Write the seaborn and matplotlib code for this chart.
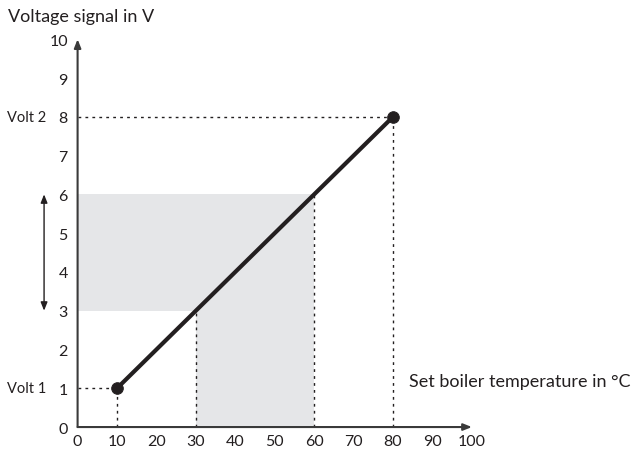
import matplotlib
matplotlib.use("Agg")
import matplotlib.pyplot as plt
import seaborn as sns
import pandas as pd

# characteristic curve: set boiler temperature -> voltage signal
temps = [10, 80]
volts = [1, 8]

# shaded ranges
temp_range = [30, 60]
volt_range = [3, 6]

x_ticks = [0, 10, 20, 30, 40, 50, 60, 70, 80, 90, 100]
y_ticks = [0, 1, 2, 3, 4, 5, 6, 7, 8, 9, 10]

df = pd.DataFrame({"temp": temps, "volt": volts})

sns.set_style("white")
plt.rcParams["font.family"] = ["Lato", "DejaVu Sans"]

fig = plt.figure(figsize=(6.36, 4.52), dpi=100)
ax = fig.add_axes([0.122, 0.053, 0.62, 0.858])

dark = "#231f20"
gray = "#e5e6e8"

# gray shaded areas
ax.fill_between([0, temp_range[1]], volt_range[0], volt_range[1], color=gray, lw=0, zorder=0)
ax.fill_between(temp_range, 0, volt_range[0], color=gray, lw=0, zorder=0)

# dotted helper lines
dot = dict(color=dark, lw=1, ls=(0, (2, 3)), zorder=1)
ax.plot([0, temps[0]], [volts[0], volts[0]], **dot)
ax.plot([temps[0], temps[0]], [0, volts[0]], **dot)
ax.plot([0, temps[1]], [volts[1], volts[1]], **dot)
ax.plot([temps[1], temps[1]], [0, volts[1]], **dot)
ax.plot([temp_range[0], temp_range[0]], [0, volt_range[0]], **dot)
ax.plot([temp_range[1], temp_range[1]], [0, volt_range[1]], **dot)

# the characteristic line and end points
sns.lineplot(data=df, x="temp", y="volt", color=dark, lw=3, ax=ax, zorder=3)
sns.scatterplot(data=df, x="temp", y="volt", color=dark, s=70, edgecolor=dark, ax=ax, zorder=4)

ax.set_xlim(0, 100)
ax.set_ylim(0, 10)
ax.set_xticks(x_ticks)
ax.set_yticks(y_ticks)
ax.set_xticklabels([str(t) for t in x_ticks], fontsize=11.5, color=dark)
ax.set_yticklabels([str(t) for t in y_ticks], fontsize=11.5, color=dark)
ax.tick_params(axis="x", length=0, pad=5)
ax.tick_params(axis="y", length=0, pad=7)
ax.set_xlabel("")
ax.set_ylabel("")
for s in ax.spines.values():
    s.set_visible(False)

# axes with arrow heads
arr = dict(arrowstyle="-|>,head_length=0.5,head_width=0.2", color="#3a3a3a", lw=1.5, shrinkA=0, shrinkB=0)
ax.annotate("", xy=(100, 0), xytext=(0, 0), arrowprops=arr, annotation_clip=False)
ax.annotate("", xy=(0, 10), xytext=(0, 0), arrowprops=arr, annotation_clip=False)

# double arrow for the voltage range
darr = dict(arrowstyle="<|-|>,head_length=0.5,head_width=0.2", color=dark, lw=1, shrinkA=0, shrinkB=0)
ax.annotate("", xy=(-8.5, volt_range[0]), xytext=(-8.5, volt_range[1]), arrowprops=darr, annotation_clip=False)

ax.text(-8, volts[1], "Volt 2", ha="right", va="center", fontsize=10.5, color=dark)
ax.text(-8, volts[0], "Volt 1", ha="right", va="center", fontsize=10.5, color=dark)

fig.text(0.012, 0.962, "Voltage signal in V", ha="left", va="center", fontsize=13, color=dark)
ax.text(84, 1.2, "Set boiler temperature in °C", ha="left", va="center", fontsize=13, color=dark)

fig.savefig("out.png", dpi=100)
